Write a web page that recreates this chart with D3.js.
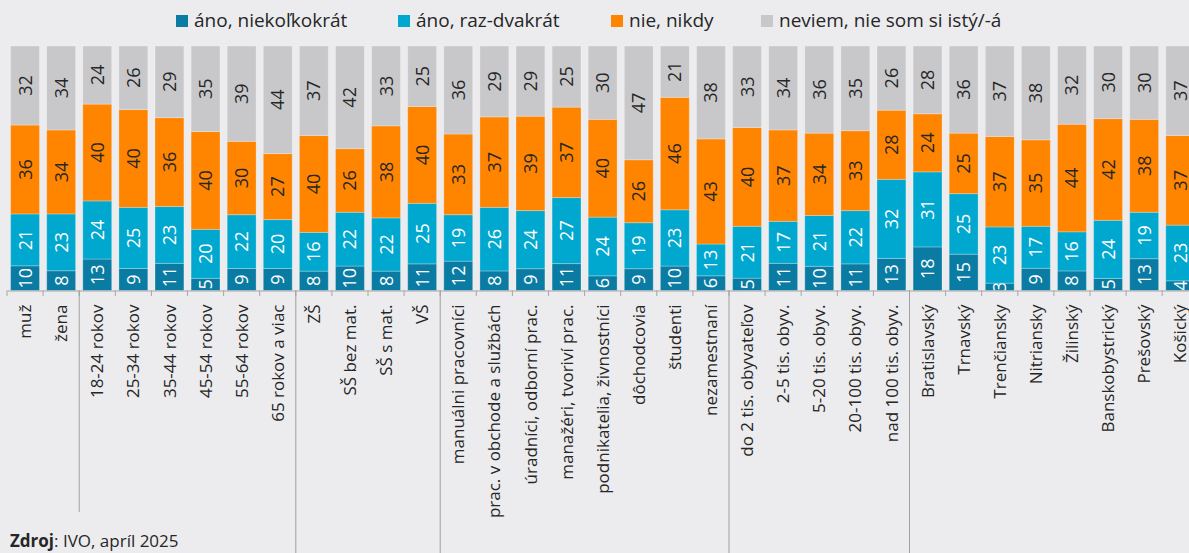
<!DOCTYPE html>
<html>
<head>
<meta charset="utf-8">
<script src="https://cdn.jsdelivr.net/npm/d3@7"></script>
<style>
  body { margin: 0; background: #ececee; }
  svg { display: block; font-family: "Open Sans", sans-serif; }
</style>
</head>
<body>
<div id="canvas"></div>
<script>
const categories = [
  "muž", "žena",
  "18-24 rokov", "25-34 rokov", "35-44 rokov", "45-54 rokov", "55-64 rokov", "65 rokov a viac",
  "ZŠ", "SŠ bez mat.", "SŠ s mat.", "VŠ",
  "manuálni pracovníci", "prac. v obchode a službách", "úradníci, odborní prac.",
  "manažéri, tvoriví prac.", "podnikatelia, živnostníci", "dôchodcovia", "študenti", "nezamestnaní",
  "do 2 tis. obyvateľov", "2-5 tis. obyv.", "5-20 tis. obyv.", "20-100 tis. obyv.", "nad 100 tis. obyv.",
  "Bratislavský", "Trnavský", "Trenčiansky", "Nitriansky", "Žilinský",
  "Banskobystrický", "Prešovský", "Košický"
];

const seriesNames = ["áno, niekoľkokrát", "áno, raz-dvakrát", "nie, nikdy", "neviem, nie som si istý/-á"];

const anoNiekolkokrat = [10, 8, 13, 9, 11, 5, 9, 9, 8, 10, 8, 11, 12, 8, 9, 11, 6, 9, 10, 6, 5, 11, 10, 11, 13, 18, 15, 3, 9, 8, 5, 13, 4];
const anoRazDvakrat   = [21, 23, 24, 25, 23, 20, 22, 20, 16, 22, 22, 25, 19, 26, 24, 27, 24, 19, 23, 13, 21, 17, 21, 22, 32, 31, 25, 23, 17, 16, 24, 19, 23];
const nieNikdy        = [36, 34, 40, 40, 36, 40, 30, 27, 40, 26, 38, 40, 33, 37, 39, 37, 40, 26, 46, 43, 40, 37, 34, 33, 28, 24, 25, 37, 35, 44, 42, 38, 37];
const neviem          = [32, 34, 24, 26, 29, 35, 39, 44, 37, 42, 33, 25, 36, 29, 29, 25, 30, 47, 21, 38, 33, 34, 36, 35, 26, 28, 36, 37, 38, 32, 30, 30, 37];

// index of first category in each group (after the first)
const groupStarts = [2, 8, 12, 20, 25];

const colors = ["#0a7ca3", "#00a8cf", "#ff8400", "#c8c8cb"];
const labelColors = ["#ffffff", "#ffffff", "#262626", "#262626"];

const width = 1189;
const height = 553;
const plotTop = 46;
const plotBottom = 290.5;

const svg = d3.select("#canvas").append("svg")
  .attr("width", width)
  .attr("height", height);

const rows = categories.map((c, i) => ({
  cat: c, s0: anoNiekolkokrat[i], s1: anoRazDvakrat[i], s2: nieNikdy[i], s3: neviem[i]
}));
const keys = ["s0", "s1", "s2", "s3"];
const stacked = d3.stack().keys(keys).offset(d3.stackOffsetExpand)(rows);

const x = d3.scaleBand()
  .domain(categories)
  .range([7, 1198.3])
  .paddingInner(0.2)
  .paddingOuter(0.1);

const y = d3.scaleLinear().domain([0, 1]).range([plotBottom, plotTop]);

const defs = svg.append("defs");

const layers = svg.selectAll("g.layer").data(stacked).enter().append("g")
  .attr("class", "layer")
  .attr("fill", (d, i) => colors[i]);

layers.each(function (layer, li) {
  const g = d3.select(this);
  layer.forEach((d, i) => {
    const x0 = x(d.data.cat);
    const y0 = y(d[1]);
    const h = y(d[0]) - y(d[1]);
    const id = `clip-${li}-${i}`;
    defs.append("clipPath").attr("id", id)
      .append("rect")
      .attr("x", x0).attr("y", y0)
      .attr("width", x.bandwidth()).attr("height", h);
    g.append("rect")
      .attr("x", x0).attr("y", y0)
      .attr("width", x.bandwidth()).attr("height", h)
      .attr("stroke", "#ffffff")
      .attr("stroke-opacity", 0.25)
      .attr("stroke-width", 1);
    const cx = x0 + x.bandwidth() / 2;
    const cy = y0 + h / 2;
    g.append("g")
      .attr("clip-path", `url(#${id})`)
      .append("text")
      .attr("transform", `translate(${cx},${cy}) rotate(-90)`)
      .attr("text-anchor", "middle")
      .attr("dy", "0.36em")
      .attr("fill", labelColors[li])
      .style("font-size", "18px")
      .text(d.data[keys[li]]);
  });
});

// x axis
const axis = svg.append("g")
  .attr("transform", `translate(0,${plotBottom})`)
  .call(d3.axisBottom(x).tickSize(0).tickSizeOuter(0));

axis.select(".domain").attr("stroke", "#a6a6a6");
axis.selectAll(".tick text")
  .attr("transform", "rotate(-90)")
  .attr("x", -14)
  .attr("y", 0)
  .attr("dy", "0.36em")
  .attr("text-anchor", "end")
  .attr("fill", "#262626")
  .style("font-size", "17px")
  .style("font-family", "Open Sans, sans-serif");

const gap = (x.step() - x.bandwidth()) / 2;
const boundaries = categories.map(c => x(c) - gap)
  .concat([x(categories[categories.length - 1]) + x.bandwidth() + gap]);

svg.append("g").selectAll("line").data(boundaries).enter().append("line")
  .attr("x1", d => d).attr("x2", d => d)
  .attr("y1", plotBottom).attr("y2", plotBottom + 5.5)
  .attr("stroke", "#a6a6a6");

svg.append("g").selectAll("line").data(groupStarts).enter().append("line")
  .attr("x1", d => boundaries[d]).attr("x2", d => boundaries[d])
  .attr("y1", plotBottom)
  .attr("y2", (d, i) => i === 0 ? 512 : height)
  .attr("stroke", "#a0a0a0");

// legend
const legendX = [176, 398, 611, 761];
const legend = svg.append("g").selectAll("g").data(seriesNames).enter().append("g")
  .attr("transform", (d, i) => `translate(${legendX[i]},0)`);
legend.append("rect")
  .attr("x", 0).attr("y", 15).attr("width", 12).attr("height", 12)
  .attr("fill", (d, i) => colors[i]);
legend.append("text")
  .attr("x", 18).attr("y", 27)
  .attr("fill", "#262626")
  .style("font-size", "19px")
  .text(d => d);

// source
const src = svg.append("text")
  .attr("x", 10).attr("y", 547)
  .attr("fill", "#262626")
  .style("font-size", "17px");
src.append("tspan").attr("font-weight", "bold").text("Zdroj");
src.append("tspan").text(": IVO, apríl 2025");
</script>
</body>
</html>
